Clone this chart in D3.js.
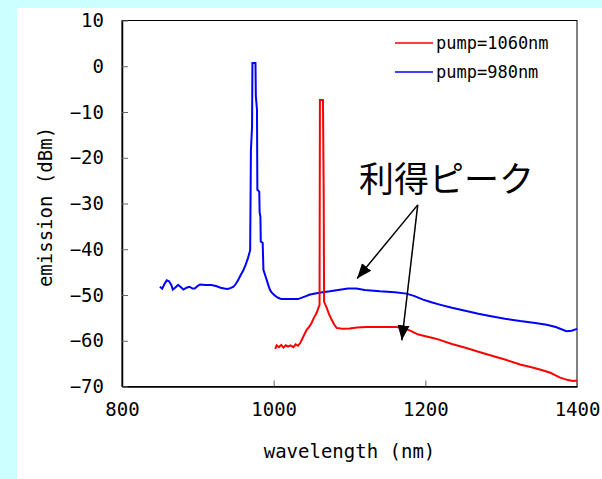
<!DOCTYPE html>
<html><head><meta charset="utf-8">
<script src="https://cdn.jsdelivr.net/npm/d3@7"></script>
<style>body{margin:0;background:#ccffff;}svg{display:block;}</style>
</head><body>
<svg id="c" width="602" height="479"></svg>
<script>
const xTicks = [800, 1000, 1200, 1400];
const yTicks = [10, 0, -10, -20, -30, -40, -50, -60, -70];
const seriesNames = ["pump=1060nm", "pump=980nm"];
const blueWl = [850,853,856,859,862,865,867,870,874,877,881,885,889,893,896,900,903,910,918,925,930,935,939,943,947,950,953,956,960,963,966,969,970,971.5,972,976,976.5,978,978.5,981,981.5,982.5,983,985.5,986.5,989,991,993,995,997,1000,1003,1006,1010,1020,1032,1040,1048,1060,1074,1085,1098,1109,1120,1140,1160,1175,1185,1197,1208,1219,1235,1254,1270,1285,1305,1325,1345,1360,1372,1386,1393,1400];
const blueDb = [-48.2,-48.6,-47.6,-46.8,-47.0,-47.8,-48.8,-48.4,-47.8,-48.2,-48.8,-48.4,-48.2,-48.6,-48.6,-48.0,-47.7,-47.8,-47.8,-48.1,-48.4,-48.6,-48.7,-48.5,-48.2,-47.6,-46.8,-45.8,-44.6,-43.4,-42.0,-40.2,-18.3,-13.2,0.7,0.7,-6.6,-9.5,-27.0,-27.4,-32.0,-32.8,-38.3,-38.6,-44.5,-45.8,-46.8,-47.9,-48.8,-49.4,-49.9,-50.3,-50.6,-50.9,-50.9,-50.9,-50.4,-49.9,-49.5,-49.2,-48.9,-48.6,-48.6,-48.9,-49.2,-49.4,-49.7,-50.2,-51.0,-51.6,-52.1,-52.8,-53.5,-54.1,-54.6,-55.2,-55.7,-56.1,-56.5,-57.0,-57.9,-57.8,-57.4];
const redWl = [1002,1004,1007,1010,1013,1016,1019,1022,1026,1029,1032,1035,1037,1040,1043.5,1047,1050,1053,1056.7,1059,1060.5,1061,1065,1066,1066.5,1070,1073,1076.5,1080,1083,1090,1100,1110,1122,1140,1162,1172,1180,1190,1200,1210,1219,1235,1254,1270,1290,1305,1325,1340,1351,1365,1377,1388,1395,1400];
const redDb = [-61.8,-61.0,-61.4,-60.9,-61.5,-61.0,-61.3,-61.0,-61.4,-60.8,-61.1,-60.5,-59.8,-58.8,-57.6,-56.9,-56.1,-55.0,-53.9,-52.8,-52.2,-7.4,-7.4,-28.5,-51.5,-52.8,-54.2,-55.4,-56.5,-57.2,-57.4,-57.3,-57.1,-57.0,-57.0,-57.0,-57.3,-57.8,-58.6,-59.0,-59.4,-59.8,-60.7,-61.6,-62.4,-63.4,-64.1,-65.2,-65.8,-66.3,-67.0,-68.0,-68.6,-68.8,-68.7];
const annotText = "利得ピーク";
const annotTextPos = [1228, -27.4];
const arrowFrom = [1190, -30.3];
const arrowTo = [[1110, -46.4], [1169, -59.9]];

const svg = d3.select("#c");
svg.append("rect").attr("x",17).attr("y",8).attr("width",585).attr("height",471).attr("fill","#fff");
const L=122,R=577,T=20.5,B=386.5;
const x = d3.scaleLinear().domain([800,1400]).range([L,R]);
const y = d3.scaleLinear().domain([-70,10]).range([B,T]);
const mono = "'DejaVu Sans Mono', monospace";

svg.append("rect").attr("x",L).attr("y",T).attr("width",R-L).attr("height",B-T).attr("fill","none").attr("stroke","#000").attr("stroke-width",1);

const gx = svg.append("g").attr("transform",`translate(0,${B})`)
  .call(d3.axisBottom(x).tickValues(xTicks).tickSizeInner(-6).tickSizeOuter(0).tickPadding(16).tickFormat(d3.format("d")));
gx.select(".domain").attr("stroke","#000").attr("stroke-width",1.5);
gx.selectAll(".tick line").attr("stroke","#666");
gx.selectAll(".tick text").attr("font-family",mono).attr("font-size",19).attr("fill","#000");

const gy = svg.append("g").attr("transform",`translate(${L},0)`)
  .call(d3.axisLeft(y).tickValues(yTicks).tickSizeInner(-6).tickSizeOuter(0).tickPadding(18).tickFormat(d=>String(d).replace("-","−")));
gy.select(".domain").attr("stroke","#000").attr("stroke-width",1.5);
gy.selectAll(".tick line").attr("stroke","#666");
gy.selectAll(".tick text").attr("font-family",mono).attr("font-size",19).attr("fill","#000");

svg.append("text").attr("x",(L+R)/2).attr("y",458).attr("text-anchor","middle")
  .attr("font-family",mono).attr("font-size",19).text("wavelength (nm)");
svg.append("text").attr("transform","translate(52,207) rotate(-90)").attr("text-anchor","middle")
  .attr("font-family",mono).attr("font-size",19).text("emission (dBm)");

const line = d3.line().x(d=>x(d[0])).y(d=>y(d[1]));
const blue = blueWl.map((w,i)=>[w,blueDb[i]]);
const red = redWl.map((w,i)=>[w,redDb[i]]);
svg.append("path").attr("d",line(blue)).attr("fill","none").attr("stroke","#0000ff").attr("stroke-width",2);
svg.append("path").attr("d",line(red)).attr("fill","none").attr("stroke","#ff0000").attr("stroke-width",2);

const colors=["#ff0000","#0000ff"];
seriesNames.forEach((n,i)=>{
  const yy = 43 + i*29;
  svg.append("line").attr("x1",395).attr("x2",433).attr("y1",yy).attr("y2",yy).attr("stroke",colors[i]).attr("stroke-width",1.5);
  svg.append("text").attr("x",436).attr("y",yy+6).attr("font-family",mono).attr("font-size",17).text(n);
});

const defs = svg.append("defs");
defs.append("marker").attr("id","ah").attr("viewBox","0 0 10 10").attr("refX",10).attr("refY",5)
  .attr("markerWidth",15).attr("markerHeight",15).attr("markerUnits","userSpaceOnUse").attr("orient","auto")
  .append("path").attr("d","M0,1 L10,5 L0,9 Z").attr("fill","#000");
arrowTo.forEach(t=>{
  svg.append("line").attr("x1",x(arrowFrom[0])).attr("y1",y(arrowFrom[1])).attr("x2",x(t[0])).attr("y2",y(t[1]))
    .attr("stroke","#000").attr("stroke-width",1.5).attr("marker-end","url(#ah)");
});
svg.append("text").attr("x",x(annotTextPos[0])).attr("y",y(annotTextPos[1])).attr("text-anchor","middle")
  .attr("font-family","'Noto Sans CJK JP', sans-serif").attr("font-size",35).attr("fill","#000").text(annotText);
</script>
</body></html>
